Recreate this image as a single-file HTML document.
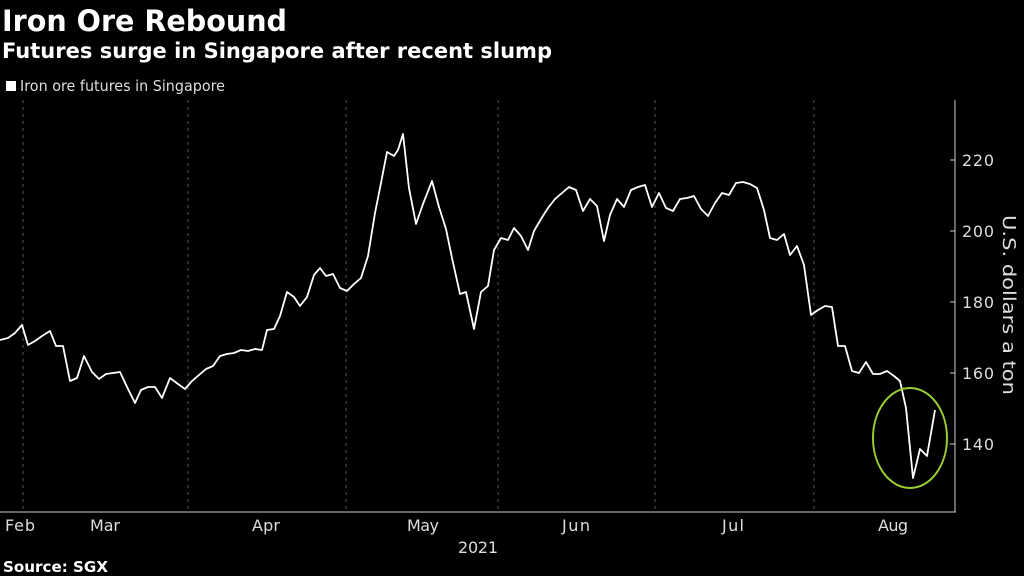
<!DOCTYPE html>
<html><head><style>
body{margin:0;background:#000;width:1024px;height:576px;overflow:hidden;font-family:"DejaVu Sans","Liberation Sans",sans-serif;color:#fff}
</style></head><body>
<svg width="1024" height="576" xmlns="http://www.w3.org/2000/svg" style="position:absolute;left:0;top:0">
<text x="2" y="31" font-size="29" font-weight="bold" fill="#fff" font-family="DejaVu Sans, sans-serif" textLength="285" lengthAdjust="spacingAndGlyphs">Iron Ore Rebound</text>
<text x="2" y="58" font-size="21" font-weight="bold" fill="#fff" font-family="DejaVu Sans, sans-serif" textLength="550" lengthAdjust="spacingAndGlyphs">Futures surge in Singapore after recent slump</text>
<rect x="6" y="81" width="10" height="10" fill="#fff"/>
<text x="20" y="91" font-size="15" fill="#ddd" font-family="DejaVu Sans, sans-serif" textLength="205" lengthAdjust="spacingAndGlyphs">Iron ore futures in Singapore</text>
<g stroke="#555" stroke-dasharray="3,4" stroke-width="1">
<line x1="23" y1="100" x2="23" y2="512"/><line x1="188" y1="100" x2="188" y2="512"/>
<line x1="346" y1="100" x2="346" y2="512"/><line x1="498" y1="100" x2="498" y2="512"/>
<line x1="655" y1="100" x2="655" y2="512"/><line x1="814" y1="100" x2="814" y2="512"/>
</g>
<line x1="0" y1="512" x2="956" y2="512" stroke="#ccc"/>
<line x1="955" y1="100" x2="955" y2="512" stroke="#ccc"/>
<g stroke="#ccc"><line x1="955" y1="160" x2="950" y2="160"/><line x1="955" y1="231" x2="950" y2="231"/><line x1="955" y1="302" x2="950" y2="302"/><line x1="955" y1="373" x2="950" y2="373"/><line x1="955" y1="444" x2="950" y2="444"/></g>
<g font-size="16" fill="#ddd" font-family="DejaVu Sans, sans-serif" lengthAdjust="spacingAndGlyphs">
<text x="962" y="166" textLength="32">220</text><text x="962" y="237" textLength="32">200</text><text x="962" y="308" textLength="32">180</text><text x="962" y="379" textLength="32">160</text><text x="962" y="450" textLength="32">140</text>
<text x="5" y="531" textLength="30">Feb</text><text x="90" y="531" textLength="30">Mar</text><text x="252" y="531" textLength="28">Apr</text><text x="407" y="531" textLength="32">May</text><text x="562" y="531" textLength="28">Jun</text><text x="722" y="531" textLength="22">Jul</text><text x="878" y="531" textLength="30">Aug</text>
<text x="458" y="553" textLength="40">2021</text>
</g>
<text transform="translate(1003,305) rotate(90)" text-anchor="middle" font-size="18" fill="#ddd" font-family="DejaVu Sans, sans-serif" textLength="180" lengthAdjust="spacingAndGlyphs">U.S. dollars a ton</text>
<text x="3" y="572" font-size="15" font-weight="bold" fill="#fff" font-family="DejaVu Sans, sans-serif" textLength="105" lengthAdjust="spacingAndGlyphs">Source: SGX</text>
<polyline fill="none" stroke="#fff" stroke-width="1.8" stroke-linejoin="round" points="0,340 8,338 15,333 22,325 28,345 35,341 42,336 50,331 56,346 63,346 70,381 77,378 84,356 92,372 99,379 106,374 113,373 120,372 128,389 135,403 141,390 148,387 155,387 162,398 170,378 178,384 185,389 192,381 199,375 206,369 213,366 220,356 227,354 234,353 241,350 248,351 255,349 262,350 267,330 274,329 280,316 287,292 294,297 300,306 307,297 314,275 320,268 326,276 333,274 340,288 347,291 354,284 361,278 368,256 375,213 381,183 387,152 394,156 398,150 403,134 409,188 416,224 423,204 432,181 439,207 446,229 452,258 460,294 466,292 474,329 481,292 488,286 494,250 501,238 508,240 514,228 521,236 528,250 534,231 541,219 548,208 555,199 562,193 569,187 576,190 583,211 590,199 597,206 604,241 610,215 617,199 624,207 631,190 638,187 645,185 652,207 659,193 666,208 673,211 680,199 687,198 694,196 701,209 708,216 715,203 722,193 729,195 736,183 743,182 750,184 757,188 764,210 770,238 777,240 784,234 790,255 797,246 804,265 811,315 818,310 825,306 832,307 838,346 845,346 852,371 859,373 866,362 873,374 880,374 887,371 894,376 900,381 906,408 913,478 920,449 927,456 935,410"/>
<ellipse cx="910" cy="438" rx="37" ry="50" fill="none" stroke="#9acd32" stroke-width="2"/>
</svg>
</body></html>
